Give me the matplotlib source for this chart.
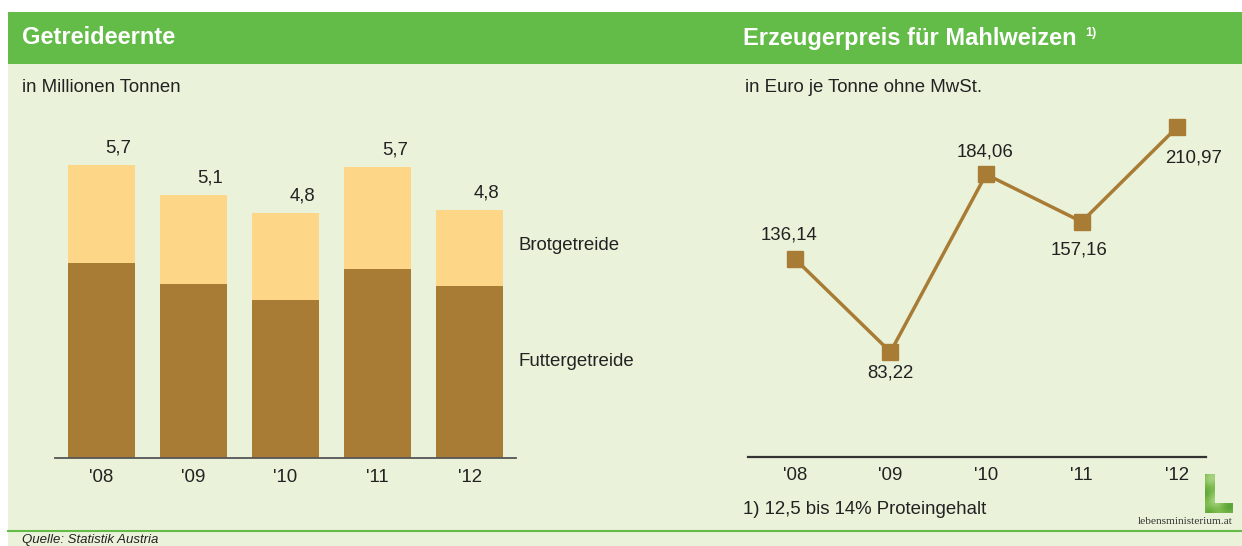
import matplotlib
matplotlib.use("Agg")
import matplotlib.pyplot as plt
import numpy as np
from matplotlib.patches import Rectangle, Polygon
from matplotlib.lines import Line2D
from matplotlib.colors import LinearSegmentedColormap

plt.rcParams['font.family'] = ['Liberation Sans', 'DejaVu Sans']

# ---- data ----
years = ["'08", "'09", "'10", "'11", "'12"]
futtergetreide = [3.79, 3.38, 3.07, 3.68, 3.35]
brotgetreide = [1.91, 1.74, 1.70, 1.98, 1.47]
total_labels = ["5,7", "5,1", "4,8", "5,7", "4,8"]
preis = [136.14, 83.22, 184.06, 157.16, 210.97]
preis_labels = ["136,14", "83,22", "184,06", "157,16", "210,97"]

W, H = 1242, 546
DPI = 100
GREEN = "#63BB48"
BG = "#EAF3DA"
DARK = "#A97C35"
LIGHT = "#FDD688"
TXT = "#222222"
FS = 13.4

fig = plt.figure(figsize=(W / DPI, H / DPI), dpi=DPI)
fig.patch.set_facecolor("white")


def fx(x):
    return x / W


def fy(y):
    return 1 - y / H


def frect(x0, y0, x1, y1):
    return [fx(x0), fy(y1), fx(x1) - fx(x0), fy(y0) - fy(y1)]


# background panels
fig.patches.append(Rectangle((fx(8), fy(546)), fx(W) - fx(8), fy(64) - fy(546),
                             transform=fig.transFigure, facecolor=BG, edgecolor="none", zorder=-3))
fig.patches.append(Rectangle((fx(8), fy(64)), fx(W) - fx(8), fy(12) - fy(64),
                             transform=fig.transFigure, facecolor=GREEN, edgecolor="none", zorder=-2))
fig.lines.append(Line2D([fx(8), fx(W)], [fy(530.5), fy(530.5)], transform=fig.transFigure,
                        color=GREEN, lw=1.5, zorder=-1))

# header texts
fig.text(fx(22), fy(38), "Getreideernte", color="white", fontsize=17, fontweight="bold",
         va="center", ha="left")
fig.text(fx(743), fy(38), "Erzeugerpreis für Mahlweizen", color="white", fontsize=17,
         fontweight="bold", va="center", ha="left")
fig.text(fx(1085), fy(33), "1)", color="white", fontsize=9, fontweight="bold",
         va="center", ha="left")
fig.text(fx(22), fy(87), "in Millionen Tonnen", color=TXT, fontsize=FS, va="center", ha="left")
fig.text(fx(745), fy(87), "in Euro je Tonne ohne MwSt.", color=TXT, fontsize=FS, va="center", ha="left")

# ---- left: stacked bars ----
ax1 = fig.add_axes(frect(55, 110, 516, 458))
ax1.set_facecolor("none")
x = np.arange(len(years))
bw = 0.726
ax1.bar(x, futtergetreide, width=bw, color=DARK, zorder=2)
ax1.bar(x, brotgetreide, width=bw, bottom=futtergetreide, color=LIGHT, zorder=2)
ax1.set_xlim(-0.5, 4.5)
ax1.set_ylim(0, 348 / 51.4)
for i, lab in enumerate(total_labels):
    top = futtergetreide[i] + brotgetreide[i]
    ax1.annotate(lab, (x[i], top), xytext=(17, 17), textcoords="offset pixels",
                 ha="center", va="center", fontsize=FS, color=TXT)
ax1.set_xticks(x)
ax1.set_xticklabels(years, fontsize=FS, color=TXT)
ax1.tick_params(axis="x", length=0, pad=8)
ax1.set_yticks([])
for s in ["left", "right", "top"]:
    ax1.spines[s].set_visible(False)
ax1.spines["bottom"].set_color("#555555")
ax1.spines["bottom"].set_linewidth(1.3)

fig.text(fx(518), fy(245), "Brotgetreide", color=TXT, fontsize=FS, va="center", ha="left")
fig.text(fx(518), fy(362), "Futtergetreide", color=TXT, fontsize=FS, va="center", ha="left")

# ---- right: line chart ----
ax2 = fig.add_axes(frect(748, 110, 1206, 457))
ax2.set_facecolor("none")
ax2.plot(x, preis, color=DARK, lw=2.5, marker="s", markersize=11.5,
         markerfacecolor=DARK, markeredgecolor=DARK, zorder=3)
ax2.set_xlim(-0.49, 4.3)
ax2.set_ylim(23.6, 220.6)
offsets = [(-6, 24), (0, -21), (-1, 22), (-3, -28), (16, -31)]
for i, lab in enumerate(preis_labels):
    ax2.annotate(lab, (x[i], preis[i]), xytext=offsets[i], textcoords="offset pixels",
                 ha="center", va="center", fontsize=FS, color=TXT)
ax2.set_xticks(x)
ax2.set_xticklabels(years, fontsize=FS, color=TXT)
ax2.tick_params(axis="x", length=0, pad=7)
ax2.set_yticks([])
for s in ["left", "right", "top"]:
    ax2.spines[s].set_visible(False)
ax2.spines["bottom"].set_color("#333333")
ax2.spines["bottom"].set_linewidth(1.6)

fig.text(fx(743), fy(510), "1) 12,5 bis 14% Proteingehalt", color=TXT, fontsize=FS,
         va="center", ha="left")

# source
fig.text(fx(22), fy(543.5), "Quelle: Statistik Austria", color=TXT, fontsize=9.5,
         style="italic", va="baseline", ha="left")

# logo
lax = fig.add_axes(frect(1205, 474, 1233, 513))
lax.set_axis_off()
gx, gy = np.meshgrid(np.linspace(0, 1, 40), np.linspace(0, 1, 60))
grad = 0.5 + 0.35 * np.sin(gx * 5 + gy * 4) * np.cos(gy * 6 - gx * 2)
lcmap = LinearSegmentedColormap.from_list("leaf", ["#4E9A2C", "#7DBB4E", "#B8DC96"])
im = lax.imshow(grad, cmap=lcmap, vmin=0, vmax=1, extent=(0, 28, 0, 39),
                aspect="auto", origin="upper")
lpoly = Polygon([(0, 0), (28, 0), (28, 10), (10, 10), (10, 39), (0, 39)], closed=True,
                transform=lax.transData, facecolor="none", edgecolor="none")
lax.add_patch(lpoly)
im.set_clip_path(lpoly)
lax.set_xlim(0, 28)
lax.set_ylim(0, 39)
fig.text(fx(1233), fy(521), "lebensministerium.at", family="Liberation Serif", fontsize=8.2,
         color="#333333", ha="right", va="center")

fig.savefig("out.png", dpi=DPI, facecolor=fig.get_facecolor())
